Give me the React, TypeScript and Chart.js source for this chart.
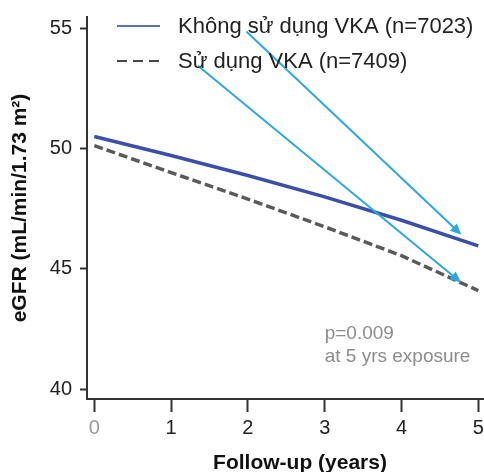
import React, { useEffect, useRef } from "react";
import { Chart, registerables } from "chart.js";

Chart.register(...registerables);

// ---- data ----
const years = [0, 1, 2, 3, 4, 5];
const noVkaValues = [50.5, 49.71, 48.88, 47.99, 47.02, 45.96];
const vkaValues = [50.12, 49.0, 47.9, 46.75, 45.55, 44.1];
const seriesLabels = ["Không sử dụng VKA (n=7023)", "Sử dụng VKA (n=7409)"];
const xTickValues = [0, 1, 2, 3, 4, 5];
const yTickValues = [40, 45, 50, 55];
const xAxisTitle = "Follow-up (years)";
const yAxisTitle = "eGFR (mL/min/1.73 m²)";
const arrowStarts = [
  [1.98, 54.86],
  [1.35, 53.44],
];
const arrowEnds = [
  [4.78, 46.42],
  [4.775, 44.44],
];
const pValueLines = ["p=0.009", "at 5 yrs exposure"];
const pValueAnchor = [3.0, 42.3];

const FONT = '"Liberation Sans", Arial, sans-serif';
const W = 520;
const H = 478;

const overlayPlugin = {
  id: "overlay",
  afterDatasetsDraw(chart: any) {
    const { ctx, scales } = chart;
    const xs = scales.x;
    const ys = scales.y;
    ctx.save();
    // arrows
    ctx.strokeStyle = "#2aa9e1";
    ctx.fillStyle = "#2aa9e1";
    ctx.lineWidth = 2;
    arrowStarts.forEach((s, i) => {
      const e = arrowEnds[i];
      const x1 = xs.getPixelForValue(s[0]);
      const y1 = ys.getPixelForValue(s[1]);
      const x2 = xs.getPixelForValue(e[0]);
      const y2 = ys.getPixelForValue(e[1]);
      const ang = Math.atan2(y2 - y1, x2 - x1);
      const c = Math.cos(ang);
      const sn = Math.sin(ang);
      const head = 11;
      const half = 5;
      const bx = x2 - head * c;
      const by = y2 - head * sn;
      ctx.beginPath();
      ctx.moveTo(x1, y1);
      ctx.lineTo(bx + 2 * c, by + 2 * sn);
      ctx.stroke();
      ctx.beginPath();
      ctx.moveTo(x2, y2);
      ctx.lineTo(bx - half * sn, by + half * c);
      ctx.lineTo(bx + half * sn, by - half * c);
      ctx.closePath();
      ctx.fill();
    });
    // p-value annotation
    ctx.fillStyle = "#8c8c8c";
    ctx.font = `19px ${FONT}`;
    ctx.textAlign = "left";
    ctx.textBaseline = "middle";
    const px = xs.getPixelForValue(pValueAnchor[0]);
    const py = ys.getPixelForValue(pValueAnchor[1]);
    pValueLines.forEach((t, i) => {
      ctx.fillText(t, px, py + i * 23);
    });
    ctx.restore();
  },
  afterDraw(chart: any) {
    const { ctx, chartArea } = chart;
    const styles = [
      { color: "#5a6ec6", dash: [] as number[], width: 2.2 },
      { color: "#4a4a4a", dash: [10, 6], width: 2.2 },
    ];
    ctx.save();
    chart.data.datasets.forEach((ds: any, i: number) => {
      const st = styles[i];
      const rowY = chartArea.top + 10 + i * 35;
      const sx = chartArea.left + 30;
      ctx.strokeStyle = st.color;
      ctx.lineWidth = st.width;
      ctx.setLineDash(st.dash);
      ctx.beginPath();
      ctx.moveTo(sx, rowY - 1);
      ctx.lineTo(sx + 43, rowY - 1);
      ctx.stroke();
      ctx.setLineDash([]);
      ctx.fillStyle = "#222";
      ctx.font = `22px ${FONT}`;
      ctx.textAlign = "left";
      ctx.textBaseline = "middle";
      ctx.fillText(ds.label, sx + 61, rowY);
    });
    ctx.restore();
  },
};

export default function App() {
  const ref = useRef<HTMLCanvasElement | null>(null);

  useEffect(() => {
    if (!ref.current) return;
    const chart = new Chart(ref.current, {
      type: "line",
      data: {
        datasets: [
          {
            label: seriesLabels[0],
            data: years.map((t, i) => ({ x: t, y: noVkaValues[i] })),
            borderColor: "#3b4fa8",
            borderWidth: 3.5,
            pointRadius: 0,
            tension: 0,
            fill: false,
          },
          {
            label: seriesLabels[1],
            data: years.map((t, i) => ({ x: t, y: vkaValues[i] })),
            borderColor: "#5a5a5a",
            borderWidth: 3.5,
            borderDash: [9, 4],
            pointRadius: 0,
            tension: 0,
            fill: false,
          },
        ],
      },
      options: {
        responsive: false,
        animation: false,
        layout: { padding: { top: 17, right: 7, left: 0, bottom: 0 } },
        plugins: {
          legend: { display: false },
          tooltip: { enabled: false },
        },
        scales: {
          x: {
            type: "linear",
            min: -0.095,
            max: 5.452,
            afterBuildTicks: (scale: any) => {
              scale.ticks = xTickValues.map((v) => ({ value: v }));
            },
            afterFit: (scale: any) => {
              scale.height = H - 399;
              scale.paddingLeft = 0;
              scale.paddingRight = 0;
            },
            border: { display: true, color: "#333", width: 2 },
            grid: {
              display: true,
              drawOnChartArea: false,
              drawTicks: true,
              tickLength: 13,
              tickWidth: 2,
              tickColor: "#333",
            },
            ticks: {
              padding: 4,
              font: { family: FONT, size: 20 },
              color: (c: any) => (c.tick && c.tick.value === 0 ? "#9a9a9a" : "#222"),
              maxRotation: 0,
            },
            title: {
              display: true,
              text: xAxisTitle,
              color: "#111",
              font: { family: FONT, size: 21, weight: "bold" },
              padding: { top: 0, bottom: 2 },
            },
          },
          y: {
            type: "linear",
            min: 39.6,
            max: 55.46,
            afterBuildTicks: (scale: any) => {
              scale.ticks = yTickValues.map((v) => ({ value: v }));
            },
            afterFit: (scale: any) => {
              scale.width = 87;
              scale.paddingTop = 0;
              scale.paddingBottom = 0;
            },
            border: { display: true, color: "#333", width: 2 },
            grid: {
              display: true,
              drawOnChartArea: false,
              drawTicks: true,
              tickLength: 7,
              tickWidth: 2,
              tickColor: "#333",
            },
            ticks: {
              padding: 8,
              font: { family: FONT, size: 20 },
              color: "#222",
            },
            title: {
              display: true,
              text: yAxisTitle,
              color: "#111",
              font: { family: FONT, size: 21, weight: "bold" },
              padding: { top: 8, bottom: 0 },
            },
          },
        },
      },
      plugins: [overlayPlugin],
    } as any);
    return () => chart.destroy();
  }, []);

  return (
    <div
      style={{
        position: "fixed",
        left: 0,
        top: 0,
        width: 484,
        height: 472,
        overflow: "hidden",
        background: "#fff",
      }}
    >
      <canvas ref={ref} width={W} height={H} style={{ width: W, height: H, display: "block" }} />
    </div>
  );
}
